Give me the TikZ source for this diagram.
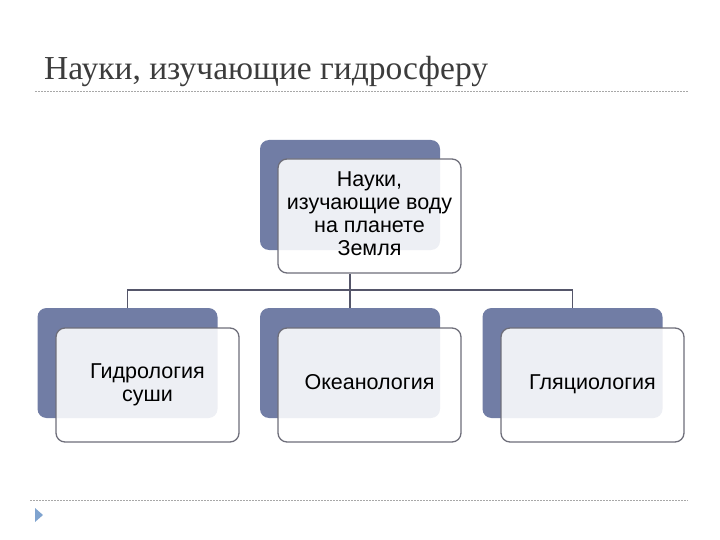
\documentclass[tikz,border=0pt]{standalone}
\usepackage{fontspec}
\setmainfont{Liberation Serif}
\newfontfamily\boxfont{Liberation Sans}
\usetikzlibrary{backgrounds}
\definecolor{backblue}{HTML}{717DA5}
\definecolor{frameg}{HTML}{6E6E7A}
\definecolor{lineg}{HTML}{55566A}
\definecolor{dashg}{HTML}{A8A8A8}
\definecolor{titleg}{HTML}{3C3C3C}
\definecolor{tri}{HTML}{7FA3CF}
\tikzset{
  backbox/.style={rectangle, rounded corners=9pt, fill=backblue, draw=none,
    minimum width=180pt, minimum height=110pt, inner sep=0pt},
  frontbox/.style={rectangle, rounded corners=9pt, fill=white, fill opacity=0.88,
    text opacity=1, draw=frameg, line width=1.3pt,
    minimum width=183pt, minimum height=114pt, inner sep=0pt,
    align=center, font=\boxfont\fontsize{21.5}{23}\selectfont, text=black},
  conn/.style={draw=lineg, line width=1.9pt},
  sep/.style={draw=dashg, line width=0.8pt, dash pattern=on 2pt off 1pt}
}
\begin{document}
\begin{tikzpicture}[x=1pt,y=-1pt]
\useasboundingbox (0,0) rectangle (720,540);
% title
\node[anchor=base west, inner sep=0pt, text=titleg, font=\fontsize{33.5}{38}\selectfont] (title) at (44,80) {Науки, изучающие гидросферу};
\coordinate (s1a) at (35,91);
\coordinate (s1b) at (688,91);
\draw[sep] (s1a) -- (s1b);
\coordinate (s2a) at (30,500);
\coordinate (s2b) at (688,500);
\draw[sep] (s2a) -- (s2b);
\fill[tri] (35,508) -- (43,515) -- (35,522) -- cycle;
% boxes
\node[backbox] (tb) at (350,195) {};
\node[frontbox] (tf) at (369.5,216) {\strut Науки,\\\strut изучающие воду\\\strut на планете\\\strut Земля};
\node[backbox] (b1) at (127.5,363) {};
\node[frontbox] (f1) at (147.5,385) {\strut Гидрология\\\strut суши};
\node[backbox] (b2) at (350,363) {};
\node[frontbox] (f2) at (369.5,385) {\strut Океанология};
\node[backbox] (b3) at (572.5,363) {};
\node[frontbox] (f3) at (592.5,385) {\strut Гляциология};
% connectors
\coordinate (ts) at (tb.south |- tf.south);
\coordinate (hub) at (350,290);
\begin{scope}[on background layer]
\draw[conn] (ts) -- (hub);
\draw[conn] (hub) -| (b1.north);
\draw[conn] (hub) -- (b2.north);
\draw[conn] (hub) -| (b3.north);
\end{scope}
\end{tikzpicture}
\end{document}
